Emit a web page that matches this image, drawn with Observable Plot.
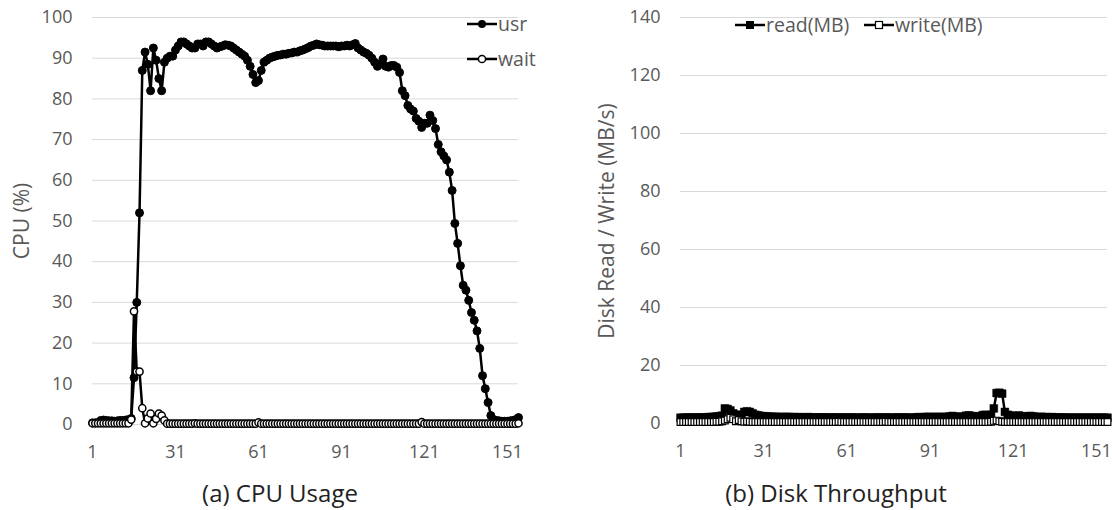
<!DOCTYPE html>
<html>
<head>
<meta charset="utf-8">
<script src="https://cdn.jsdelivr.net/npm/d3@7"></script>
<script src="https://cdn.jsdelivr.net/npm/@observablehq/plot@0.6"></script>
<style>
  html, body { margin: 0; padding: 0; background: #fff; }
  #wrap { position: relative; width: 1112px; height: 510px; font-family: "Open Sans", "Noto Sans", sans-serif; overflow: hidden; }
  .panel { position: absolute; top: 0; }
  .cap { position: absolute; top: 476px; font-size: 24px; color: #222; white-space: nowrap; transform: translateX(-50%); }
  .ylab { position: absolute; font-size: 21px; color: #595959; white-space: nowrap; transform: translate(-50%, -50%) rotate(-90deg); }
  .leg { position: absolute; font-size: 19.5px; color: #595959; white-space: nowrap; display: flex; align-items: center; }
  .leg svg { display: block; margin-right: 1px; }
</style>
</head>
<body>
<div id="wrap"></div>
<script>
// ---- Data (index 1..155) ----
const cpuTicks = [1, 31, 61, 91, 121, 151];
const diskTicks = [1, 31, 61, 91, 121, 151];
const cpuYTicks = [0, 10, 20, 30, 40, 50, 60, 70, 80, 90, 100];
const diskYTicks = [0, 20, 40, 60, 80, 100, 120, 140];

const usr = [
  0.4, 0.4, 0.5, 1.0, 1.1, 1.0, 0.9, 0.9, 0.8, 0.9,
  1.0, 1.0, 1.1, 1.2, 1.5, 11.5, 30, 52, 87, 91.5,
  88.5, 82, 92.5, 89.5, 85, 82, 89, 90, 90.5, 90.5,
  92, 93, 94, 94, 93.5, 93, 92.5, 92.5, 93.5, 93.5,
  93, 94, 94, 93.5, 93, 92.5, 92.8, 93, 93.3, 93.2,
  93, 92.5, 92, 91.5, 91, 90.5, 89.5, 88, 86, 84,
  84.5, 87, 89, 89.5, 90, 90.3, 90.5, 90.7, 90.8, 91,
  91, 91.2, 91.3, 91.5, 91.5, 91.8, 92, 92.3, 92.6, 93,
  93.2, 93.5, 93.3, 93.2, 93, 93, 93, 93, 93, 92.8,
  93, 93, 93.2, 93, 93.3, 93.6, 92.5, 92, 91.5, 91.2,
  90.7, 90, 89, 88, 88.5, 89.8, 88, 87.8, 88.2, 88.2,
  87.8, 86.5, 82, 80.8, 78.4, 77.5, 77, 75.2, 74.5, 73,
  74, 74, 76, 74.7, 72.7, 68.8, 67, 66, 65, 62,
  57.5, 49.4, 44.5, 39, 34.2, 33, 30.5, 27.5, 25.6, 23,
  18.7, 12, 8.8, 5.4, 2.2, 1.2, 1, 0.9, 0.8, 0.8,
  0.8, 0.9, 1, 1.2, 1.7
];
const wait = [
  0.3, 0.3, 0.3, 0.3, 0.3, 0.3, 0.3, 0.3, 0.3, 0.3,
  0.3, 0.3, 0.3, 0.3, 1.2, 27.8, 13, 13, 4, 0.3,
  1.5, 2.7, 0.3, 1.4, 2.7, 2.2, 1, 0.2, 0.2, 0.2,
  0.2, 0.2, 0.2, 0.2, 0.2, 0.2, 0.2, 0.3, 0.2, 0.2,
  0.2, 0.2, 0.2, 0.2, 0.2, 0.2, 0.2, 0.2, 0.2, 0.2,
  0.2, 0.2, 0.2, 0.2, 0.2, 0.2, 0.2, 0.2, 0.2, 0.2,
  0.5, 0.2, 0.2, 0.2, 0.2, 0.2, 0.2, 0.2, 0.2, 0.2,
  0.2, 0.2, 0.2, 0.2, 0.2, 0.2, 0.2, 0.2, 0.2, 0.2,
  0.2, 0.2, 0.2, 0.2, 0.2, 0.2, 0.2, 0.2, 0.2, 0.2,
  0.2, 0.2, 0.2, 0.2, 0.2, 0.2, 0.2, 0.2, 0.2, 0.2,
  0.2, 0.2, 0.2, 0.2, 0.2, 0.2, 0.2, 0.2, 0.2, 0.2,
  0.2, 0.2, 0.2, 0.2, 0.2, 0.2, 0.2, 0.2, 0.2, 0.6,
  0.2, 0.2, 0.2, 0.2, 0.2, 0.2, 0.2, 0.2, 0.2, 0.2,
  0.2, 0.2, 0.2, 0.2, 0.2, 0.2, 0.2, 0.2, 0.2, 0.2,
  0.2, 0.2, 0.2, 0.2, 0.2, 0.2, 0.2, 0.2, 0.2, 0.2,
  0.2, 0.2, 0.2, 0.2, 0.3
];
const readMB = [
  2.0, 2.0, 2.0, 2.1, 2.0, 2.0, 2.1, 2.0, 2.1, 2.1,
  2.2, 2.2, 2.3, 2.4, 2.5, 2.7, 5.2, 5.0, 4.5, 3.5,
  3.0, 2.8, 3.0, 4.0, 4.2, 4.0, 3.5, 3.0, 2.8, 2.6,
  2.5, 2.4, 2.4, 2.3, 2.3, 2.3, 2.2, 2.2, 2.3, 2.2,
  2.2, 2.2, 2.1, 2.2, 2.1, 2.1, 2.2, 2.1, 2.1, 2.1,
  2.0, 2.1, 2.1, 2.0, 2.1, 2.0, 2.1, 2.0, 2.0, 2.1,
  2.0, 2.0, 2.1, 2.0, 2.0, 2.0, 2.1, 2.0, 2.0, 2.0,
  2.0, 2.1, 2.0, 2.0, 2.1, 2.0, 2.0, 2.0, 2.1, 2.0,
  2.0, 2.1, 2.0, 2.0, 2.0, 2.1, 2.2, 2.1, 2.2, 2.3,
  2.2, 2.2, 2.3, 2.2, 2.2, 2.3, 2.2, 2.4, 2.6, 2.4,
  2.3, 2.2, 2.4, 2.7, 2.8, 2.6, 2.4, 2.3, 2.5, 2.9,
  3.0, 2.8, 3.0, 5.2, 10.5, 10.6, 10.3, 4.0, 3.0, 2.8,
  2.5, 2.4, 2.8, 2.5, 2.3, 2.4, 2.6, 2.5, 2.3, 2.2,
  2.3, 2.2, 2.2, 2.1, 2.2, 2.1, 2.1, 2.0, 2.1, 2.0,
  2.0, 2.0, 2.0, 2.0, 2.0, 2.0, 2.0, 2.0, 2.0, 2.0,
  2.0, 2.0, 2.0, 2.0, 2.0
];
const writeMB = [
  0.5, 0.5, 0.5, 0.5, 0.5, 0.5, 0.5, 0.5, 0.5, 0.5,
  0.5, 0.5, 0.5, 0.6, 0.6, 0.8, 1.0, 1.5, 2.0, 1.5,
  0.8, 1.2, 0.8, 0.6, 0.7, 0.6, 0.5, 0.5, 0.5, 0.5,
  0.5, 0.5, 0.5, 0.5, 0.5, 0.5, 0.5, 0.5, 0.5, 0.5,
  0.5, 0.5, 0.5, 0.5, 0.5, 0.5, 0.5, 0.5, 0.5, 0.5,
  0.5, 0.5, 0.5, 0.5, 0.5, 0.5, 0.5, 0.6, 0.5, 0.5,
  0.5, 0.5, 0.5, 0.5, 0.5, 0.5, 0.5, 0.5, 0.5, 0.5,
  0.5, 0.5, 0.5, 0.5, 0.6, 0.5, 0.5, 0.5, 0.5, 0.5,
  0.5, 0.5, 0.5, 0.5, 0.5, 0.5, 0.5, 0.5, 0.5, 0.5,
  0.5, 0.5, 0.5, 0.5, 0.5, 0.5, 0.5, 0.5, 0.5, 0.5,
  0.5, 0.5, 0.5, 0.5, 0.5, 0.5, 0.5, 0.5, 0.5, 0.5,
  0.5, 0.5, 0.6, 0.9, 1.0, 0.8, 0.6, 0.5, 0.5, 0.5,
  0.5, 0.5, 0.5, 0.5, 0.5, 0.5, 0.5, 0.5, 0.5, 0.5,
  0.5, 0.5, 0.5, 0.5, 0.5, 0.5, 0.5, 0.5, 0.5, 0.5,
  0.5, 0.5, 0.5, 0.5, 0.5, 0.5, 0.5, 0.5, 0.5, 0.5,
  0.5, 0.5, 0.5, 0.5, 0.5
];

const toRows = arr => arr.map((v, i) => ({x: i + 1, y: v}));
const usrRows = toRows(usr), waitRows = toRows(wait);
const readRows = toRows(readMB), writeRows = toRows(writeMB);

const axisStyle = {fontSize: "18px", fontFamily: "'Open Sans', 'Noto Sans', sans-serif", color: "#595959", background: "transparent", overflow: "visible"};
const wrap = document.getElementById("wrap");

function panel(left, opts) {
  const div = document.createElement("div");
  div.className = "panel";
  div.style.left = left + "px";
  div.appendChild(Plot.plot(opts));
  wrap.appendChild(div);
}

panel(0, {
  width: 556, height: 465,
  marginLeft: 92, marginRight: 38, marginTop: 17, marginBottom: 41,
  style: axisStyle,
  x: {domain: [1, 155]},
  y: {domain: [0, 100]},
  marks: [
    Plot.gridY(cpuYTicks, {stroke: "#d9d9d9", strokeOpacity: 1, strokeWidth: 1}),
    Plot.axisX(cpuTicks, {tickSize: 0, tickPadding: 21, fill: "#595959", label: null}),
    Plot.axisY(cpuYTicks, {tickSize: 0, tickPadding: 20, fill: "#595959", label: null}),
    Plot.line(usrRows, {x: "x", y: "y", stroke: "#000", strokeWidth: 2.5}),
    Plot.dot(usrRows, {x: "x", y: "y", r: 4, fill: "#000", stroke: "#000", strokeWidth: 1}),
    Plot.line(waitRows, {x: "x", y: "y", stroke: "#000", strokeWidth: 2.5}),
    Plot.dot(waitRows, {x: "x", y: "y", r: 3.6, fill: "#fff", stroke: "#000", strokeWidth: 1.5})
  ]
});

panel(556, {
  width: 556, height: 465,
  marginLeft: 124, marginRight: 5, marginTop: 17, marginBottom: 42,
  style: axisStyle,
  x: {domain: [1, 155]},
  y: {domain: [0, 140]},
  marks: [
    Plot.gridY(diskYTicks, {stroke: "#d9d9d9", strokeOpacity: 1, strokeWidth: 1}),
    Plot.axisX(diskTicks, {tickSize: 0, tickPadding: 21, fill: "#595959", label: null}),
    Plot.axisY(diskYTicks, {tickSize: 0, tickPadding: 20, fill: "#595959", label: null}),
    Plot.line(readRows, {x: "x", y: "y", stroke: "#000", strokeWidth: 2.5}),
    Plot.dot(readRows, {x: "x", y: "y", symbol: "square", r: 4.4, fill: "#000", stroke: "#000", strokeWidth: 0.5}),
    Plot.line(writeRows, {x: "x", y: "y", stroke: "#000", strokeWidth: 2.5}),
    Plot.dot(writeRows, {x: "x", y: "y", symbol: "square", r: 3.8, fill: "#fff", stroke: "#000", strokeWidth: 1.2})
  ]
});

// axis titles and captions
function addDiv(cls, text, left, top) {
  const d = document.createElement("div");
  d.className = cls;
  d.textContent = text;
  d.style.left = left + "px";
  if (top != null) d.style.top = top + "px";
  wrap.appendChild(d);
  return d;
}
addDiv("ylab", "CPU (%)", 21, 221);
addDiv("ylab", "Disk Read / Write (MB/s)", 606, 221);
addDiv("cap", "(a) CPU Usage", 280);
addDiv("cap", "(b) Disk Throughput", 836);

// legends
function legend(label, left, top, marker) {
  const d = document.createElement("div");
  d.className = "leg";
  d.style.left = left + "px";
  d.style.top = (top - 13) + "px";
  const svg = `<svg width="30" height="26"><line x1="0" y1="13" x2="30" y2="13" stroke="#000" stroke-width="2.5"/>${marker}</svg>`;
  d.innerHTML = svg + `<span>${label}</span>`;
  wrap.appendChild(d);
}
legend("usr", 467, 23, `<circle cx="15" cy="13" r="4" fill="#000"/>`);
legend("wait", 467, 58, `<circle cx="15" cy="13" r="3.6" fill="#fff" stroke="#000" stroke-width="1.5"/>`);
legend("read(MB)", 735, 24, `<rect x="11" y="9" width="8" height="8" fill="#000"/>`);
legend("write(MB)", 864, 24, `<rect x="11.5" y="9.5" width="7" height="7" fill="#fff" stroke="#000" stroke-width="1.2"/>`);
</script>
</body>
</html>
